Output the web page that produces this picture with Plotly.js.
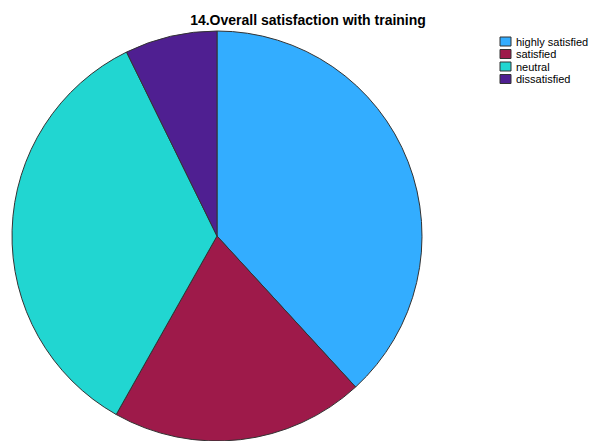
<!DOCTYPE html>
<html>
<head>
<meta charset="utf-8">
<script src="https://cdn.plot.ly/plotly-3.0.1.min.js"></script>
<style>html,body{margin:0;padding:0;background:#fff;}#chart{width:593px;height:441px;}</style>
</head>
<body>
<div id="chart"></div>
<script>
var categories = ["highly satisfied", "satisfied", "neutral", "dissatisfied"];
var counts = [21, 11, 19, 4];
var colors = ["#33adff", "#9e1a4a", "#21d6d1", "#4f1f91"];

var W = 593, H = 441;
function px(x) { return x / W; }
function py(y) { return 1 - y / H; }

var trace = {
  type: "pie",
  labels: categories,
  values: counts,
  sort: false,
  direction: "clockwise",
  rotation: 0,
  textinfo: "none",
  showlegend: false,
  marker: {colors: colors, line: {color: "#333333", width: 1}},
  domain: {x: [px(8), px(426)], y: [py(449), py(31)]}
};

// legend built from the category / colour arrays
var shapes = [], annotations = [];
var legX = 500, legY0 = 37, legStep = 12.5, box = 10;
categories.forEach(function (c, i) {
  var y = legY0 + i * legStep;
  shapes.push({type: "rect", xref: "paper", yref: "paper",
    x0: px(legX), x1: px(legX + box + 1), y0: py(y + box - 1), y1: py(y),
    fillcolor: colors[i], line: {color: "#333333", width: 1}});
  annotations.push({xref: "paper", yref: "paper", x: px(legX + box + 4), y: py(y + 4.5),
    xanchor: "left", yanchor: "middle", showarrow: false, text: c,
    font: {size: 11, color: "#000"}});
});

var layout = {
  width: W, height: H,
  margin: {l: 0, r: 0, t: 0, b: 0},
  paper_bgcolor: "#ffffff",
  font: {family: "Liberation Sans, Arial, sans-serif", color: "#000000"},
  title: {text: "<b>14.Overall satisfaction with training</b>", font: {size: 14, family: "Liberation Sans, Arial, sans-serif", color: "#000"}, x: px(308), xanchor: "center", y: py(20), yanchor: "middle"},
  showlegend: false,
  shapes: shapes,
  annotations: annotations
};

Plotly.newPlot("chart", [trace], layout, {displayModeBar: false, staticPlot: true});
</script>
</body>
</html>
